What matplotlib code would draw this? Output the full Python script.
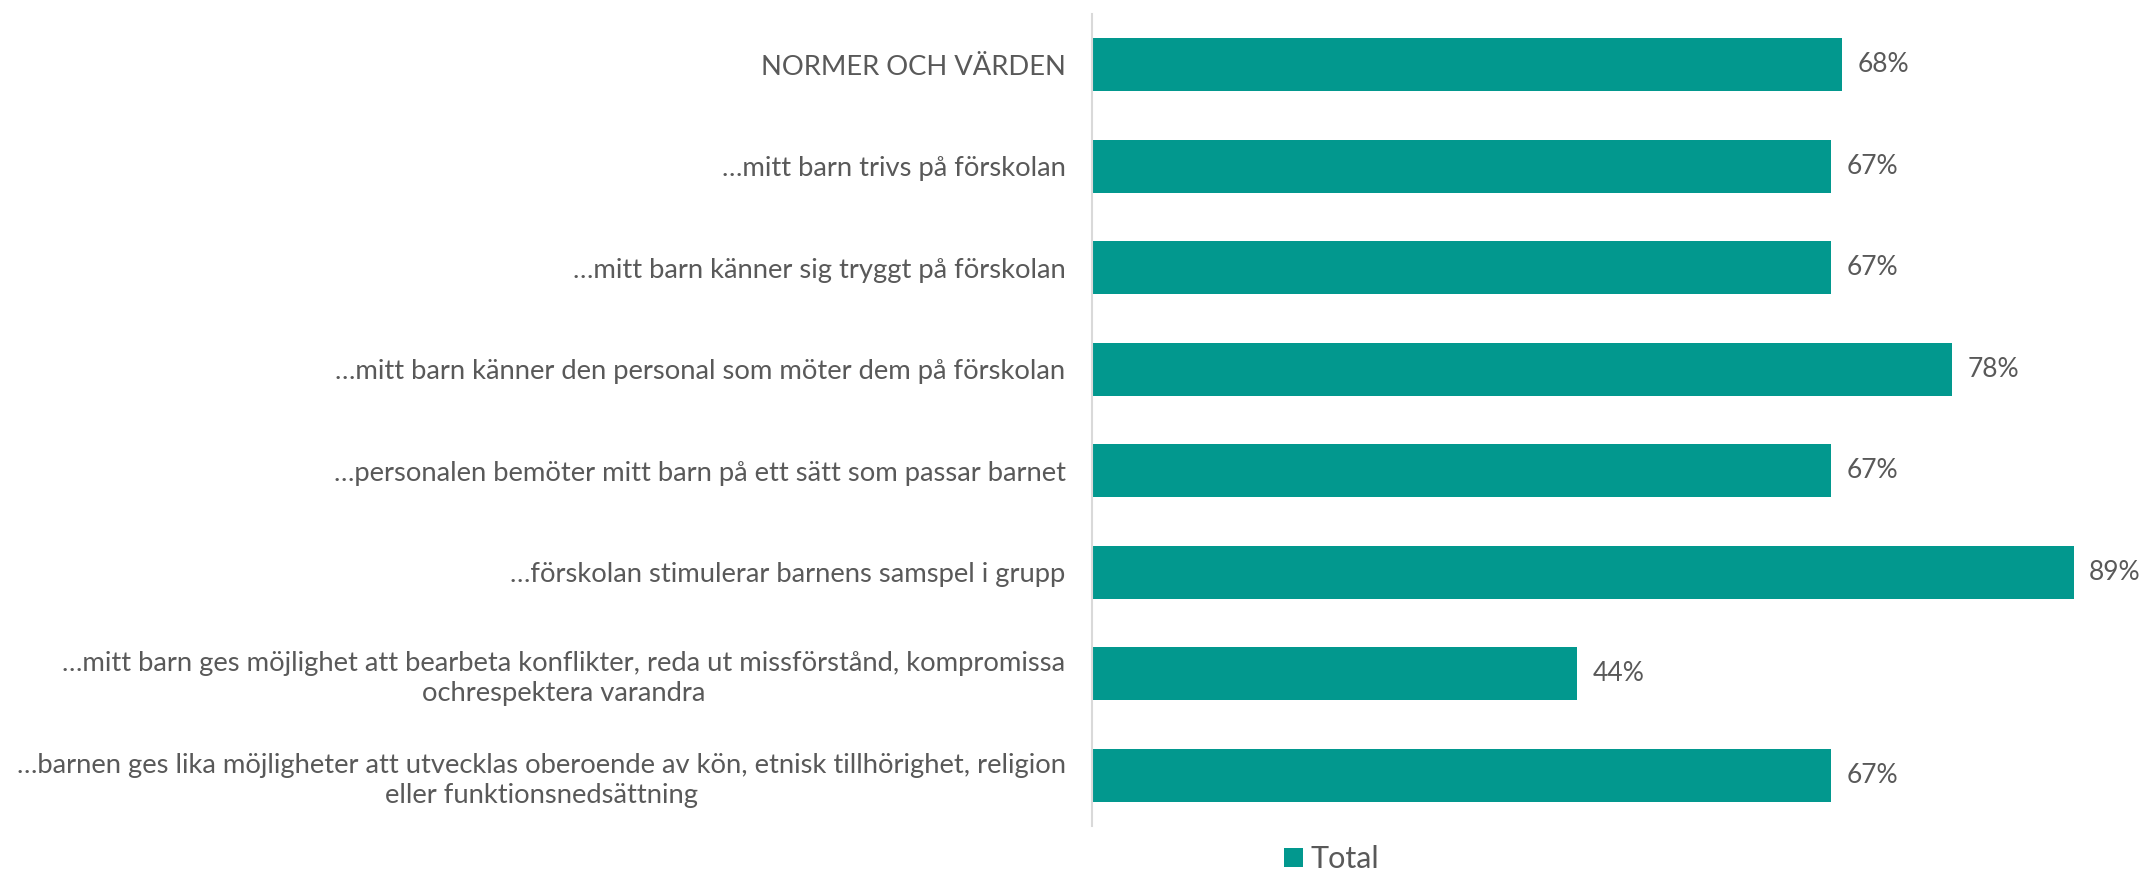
import matplotlib.pyplot as plt
import numpy as np

plt.rcParams['font.family'] = ['Lato', 'DejaVu Sans']

categories = [
    'NORMER OCH VÄRDEN',
    '…mitt barn trivs på förskolan',
    '…mitt barn känner sig tryggt på förskolan',
    '…mitt barn känner den personal som möter dem på förskolan',
    '…personalen bemöter mitt barn på ett sätt som passar barnet',
    '…förskolan stimulerar barnens samspel i grupp',
    '…mitt barn ges möjlighet att bearbeta konflikter, reda ut missförstånd, kompromissa\nochrespektera varandra',
    '…barnen ges lika möjligheter att utvecklas oberoende av kön, etnisk tillhörighet, religion\neller funktionsnedsättning',
]
total = [68, 67, 67, 78, 67, 89, 44, 67]
series_name = 'Total'

bar_color = '#02988E'
text_color = '#595959'

fig = plt.figure(figsize=(21.41, 8.75), dpi=100)
ax = fig.add_axes([0.510, 0.056, 0.490, 0.928])

y = np.arange(len(categories))
bars = ax.barh(y, total, height=0.52, color=bar_color, label=series_name)

for b, v in zip(bars, total):
    ax.text(b.get_width() + 1.4, b.get_y() + b.get_height() / 2, f'{v}%',
            va='center', ha='left', fontsize=19, color=text_color)

ax.set_yticks(y)
ax.set_yticklabels(categories, fontsize=19.7, color=text_color)
for lab in ax.get_yticklabels():
    lab.set_multialignment('center')
    lab.set_linespacing(1.25)
ax.tick_params(axis='y', length=0, pad=19)
ax.set_ylim(len(categories) - 0.5, -0.5)
ax.set_xlim(0, 95.1)
ax.set_xticks([])

for s in ['top', 'right', 'bottom']:
    ax.spines[s].set_visible(False)
ax.spines['left'].set_color('#D9D9D9')
ax.spines['left'].set_linewidth(1.5)

fig.legend(handles=[bars], labels=[series_name], loc='center',
           bbox_to_anchor=(0.622, 0.018), frameon=False, fontsize=22,
           handlelength=0.6, handleheight=0.6, handletextpad=0.25,
           labelcolor=text_color, borderpad=0.1)

fig.savefig('out.png', dpi=100)
